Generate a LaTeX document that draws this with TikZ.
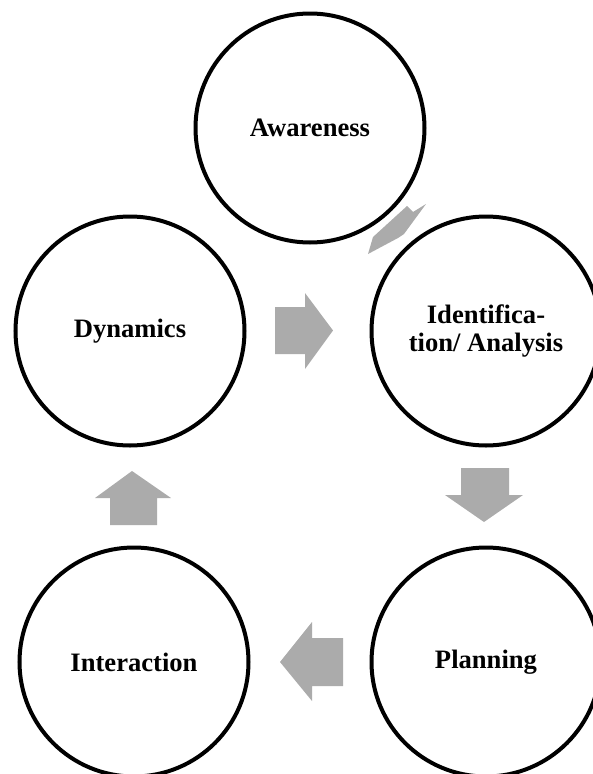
\documentclass[tikz,border=0pt]{standalone}
\usepackage{fontspec}
\setmainfont{Liberation Serif}
\definecolor{arrowgray}{RGB}{171,171,171}
\begin{document}
\begin{tikzpicture}[x=1pt,y=-1pt,
  stage/.style={draw=black,line width=4pt,circle,minimum size=229pt,inner sep=0pt,
    font=\fontsize{26.6}{28}\selectfont\bfseries,align=center,text=black},
  blockarrow/.style={fill=arrowgray,draw=none}]
\useasboundingbox (0,0) rectangle (593,774);
\begin{scope}
\clip (0,0) rectangle (593,774);
\node[stage] (aw) at (310,128) {Awareness};
\node[stage] (id) at (486,331) {Identifica-\\tion/ Analysis};
\node[stage] (pl) at (486,662) {Planning};
\node[stage] (in) at (134,662) {Interaction};
\node[stage] (dy) at (130,331) {Dynamics};
\end{scope}
% Awareness -> Identification (distorted arrow)
\fill[blockarrow] (373,237) -- (407,206) -- (413,212) -- (426,204) -- (404,234) -- (398,238) -- (368,254) -- cycle;
% Identification -> Planning
\fill[blockarrow] (461,468) -- (509,468) -- (509,495) -- (523,495) -- (484,522) -- (445,495) -- (461,495) -- cycle;
% Planning -> Interaction
\fill[blockarrow] (343,638) -- (343,686) -- (312,686) -- (312,701) -- (280,662) -- (312,622) -- (312,638) -- cycle;
% Interaction -> Dynamics
\fill[blockarrow] (110,525) -- (157,525) -- (157,498) -- (171,498) -- (132,471) -- (95,498) -- (110,498) -- cycle;
% Dynamics -> Identification
\fill[blockarrow] (275,307) -- (305,307) -- (305,293) -- (333,330.5) -- (305,369) -- (305,354) -- (275,354) -- cycle;
\end{tikzpicture}
\end{document}
